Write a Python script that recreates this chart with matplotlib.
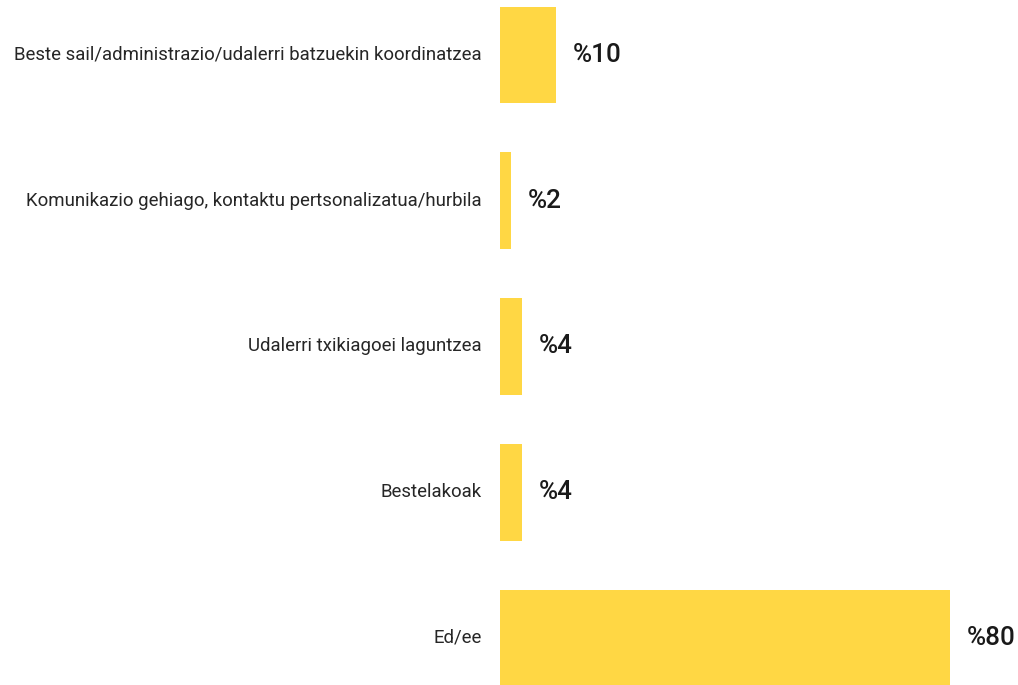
import matplotlib
matplotlib.use("Agg")
import matplotlib.pyplot as plt

categories = [
    "Beste sail/administrazio/udalerri batzuekin koordinatzea",
    "Komunikazio gehiago, kontaktu pertsonalizatua/hurbila",
    "Udalerri txikiagoei laguntzea",
    "Bestelakoak",
    "Ed/ee",
]
values = [10, 2, 4, 4, 80]
value_labels = ["%10", "%2", "%4", "%4", "%80"]

plt.rcParams['font.family'] = ['Roboto', 'DejaVu Sans']

fig = plt.figure(figsize=(10.18, 6.85), dpi=100)
W, H = 1018, 685
ax = fig.add_axes([500 / W, 0, 518 / W, 1])
ypos = list(range(len(categories)))
ax.barh(ypos, values, height=0.665, color="#FFD744", edgecolor="none")
ax.set_xlim(0, 518 / 5.62)
ax.set_ylim(4 + 47 / 145.75, -55 / 145.75)
ax.axis("off")

for y, v, lab, cat in zip(ypos, values, value_labels, categories):
    ax.annotate(lab, (v, y), xytext=(12, 0), textcoords="offset points",
                ha="left", va="center", fontsize=18.7, fontweight="medium",
                color="#1a1a1a")
    ax.annotate(cat, (0, y), xytext=(-13, 0), textcoords="offset points",
                ha="right", va="center", fontsize=13.4, color="#262626")

fig.savefig("out.png", dpi=100)
